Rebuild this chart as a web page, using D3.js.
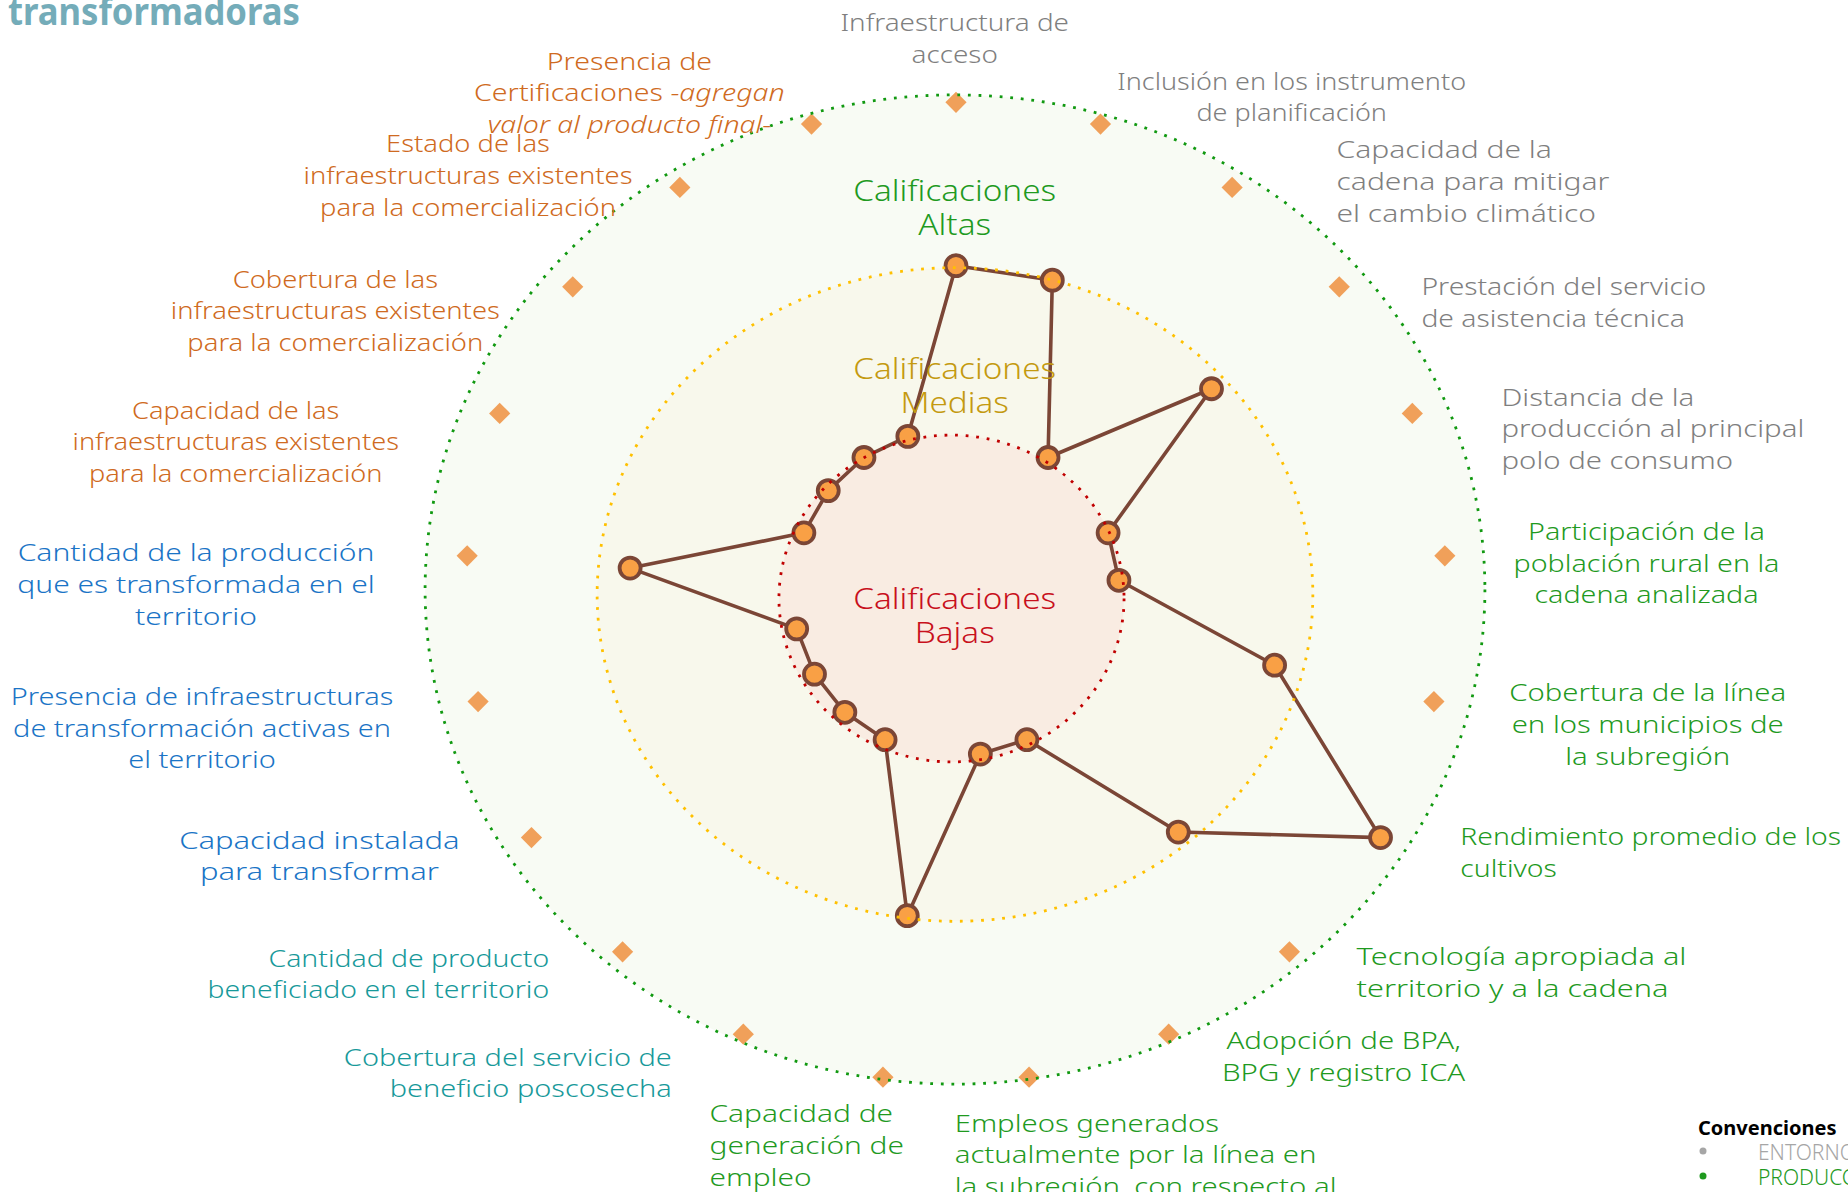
<!DOCTYPE html>
<html lang="es">
<head>
<meta charset="UTF-8">
<script src="https://d3js.org/d3.v7.min.js"></script>
<style>
  body { margin: 0; background: #ffffff; }
  svg { display: block; font-family: "Noto Sans", sans-serif; }
  .ligero { font-weight: 300; }
</style>
</head>
<body>
<svg width="1848" height="1192"></svg>
<script>
// criterios del radar, en sentido horario desde arriba
var criterios = [
  ["Infraestructura de", "acceso"],
  ["Inclusión en los instrumento", "de planificación"],
  ["Capacidad de la", "cadena para mitigar", "el cambio climático"],
  ["Prestación del servicio", "de asistencia técnica"],
  ["Distancia de la", "producción al principal", "polo de consumo"],
  ["Participación de la", "población rural en la", "cadena analizada"],
  ["Cobertura de la línea", "en los municipios de", "la subregión"],
  ["Rendimiento promedio de los", "cultivos"],
  ["Tecnología apropiada  al", "territorio y a la cadena"],
  ["Adopción de BPA,", "BPG y registro ICA"],
  ["Empleos generados", "actualmente por la línea en", "la subregión, con respecto al"],
  ["Capacidad de", "generación de", "empleo"],
  ["Cobertura del servicio de", "beneficio poscosecha"],
  ["Cantidad de producto", "beneficiado en el territorio"],
  ["Capacidad instalada", "para transformar"],
  ["Presencia de infraestructuras", "de transformación activas en", "el territorio"],
  ["Cantidad de la producción", "que es transformada en el", "territorio"],
  ["Capacidad de las", "infraestructuras existentes", "para la comercialización"],
  ["Cobertura de las", "infraestructuras existentes", "para la comercialización"],
  ["Estado de las", "infraestructuras existentes", "para la comercialización"],
  ["Presencia de", "Certificaciones _-agregan_", "_valor al producto final-_"]
];

var componentes = [
  "ENTORNO", "ENTORNO", "ENTORNO", "ENTORNO", "ENTORNO",
  "PRODUCCIÓN", "PRODUCCIÓN", "PRODUCCIÓN", "PRODUCCIÓN", "PRODUCCIÓN", "PRODUCCIÓN", "PRODUCCIÓN",
  "BENEFICIO", "BENEFICIO",
  "TRANSFORMACIÓN", "TRANSFORMACIÓN", "TRANSFORMACIÓN",
  "COMERCIALIZACIÓN", "COMERCIALIZACIÓN", "COMERCIALIZACIÓN", "COMERCIALIZACIÓN"
];

// 1 = baja, 2 = media, 3 = alta
var calificaciones = [2, 2, 1, 2, 1, 1, 2, 3, 2, 1, 1, 2, 1, 1, 1, 1, 2, 1, 1, 1, 1];
var maxCalificacion = 3;

var niveles = ["Bajas", "Medias", "Altas"];
var convenciones = ["ENTORNO", "PRODUCCIÓN"];
var titulo = "transformadoras";

// ---- colores
var colorComponente = {
  "ENTORNO": "#7f7f7f",
  "PRODUCCIÓN": "#1f9a1f",
  "BENEFICIO": "#17999a",
  "TRANSFORMACIÓN": "#1a74c6",
  "COMERCIALIZACIÓN": "#cf6a21"
};
var colorNivel = ["#c8101c", "#c49a10", "#1f9a1f"];
var rellenoNivel = ["#f9ece2", "#f8f8ec", "#f8fbf4"];

var svg = d3.select("svg");
var cx = 956, cy = 592.5;

var r = d3.scaleLinear().domain([0, maxCalificacion]).range([0, 490.2]);
var ang = d3.scaleLinear().domain([0, criterios.length]).range([0, 2 * Math.PI]);

var g = svg.append("g").attr("transform", "translate(" + cx + "," + cy + ")");

// anillos (ligeramente achatados como en el original)
var anillos = [
  {nivel: 3, kx: 1.081, ky: 1.009, dx: -1, dy: -3},
  {nivel: 2, kx: 1.095, ky: 1.0, dx: -1, dy: 2},
  {nivel: 1, kx: 1.056, ky: 1.0, dx: -4.5, dy: 6}
];

g.selectAll("ellipse.fondo").data(anillos).enter().append("ellipse")
  .attr("class", "fondo")
  .attr("cx", function(d) { return d.dx; })
  .attr("cy", function(d) { return d.dy; })
  .attr("rx", function(d) { return r(d.nivel) * d.kx; })
  .attr("ry", function(d) { return r(d.nivel) * d.ky; })
  .attr("fill", function(d) { return rellenoNivel[d.nivel - 1]; });

// textos de "Calificaciones ..."
var posNiveles = [598.7, 369, 191];
niveles.forEach(function(n, i) {
  var grp = svg.append("g").attr("class", "ligero");
  var lineas = ["Calificaciones", n];
  lineas.forEach(function(l, j) {
    grp.append("text")
      .attr("x", 0).attr("y", j * 34).attr("dy", "0.35em")
      .attr("text-anchor", "middle")
      .attr("fill", colorNivel[i])
      .style("font-size", "29px")
      .text(l);
  });
  var w = grp.select("text").node().getComputedTextLength();
  grp.attr("transform", "translate(" + 954.7 + "," + posNiveles[i] + ") scale(" + (203 / w) + ",1)");
});

// rombos en el valor máximo
g.selectAll("path.rombo").data(criterios).enter().append("path")
  .attr("class", "rombo")
  .attr("d", d3.symbol(d3.symbolSquare, 225)())
  .attr("fill", "#f0a05a")
  .attr("transform", function(d, i) {
    var p = d3.pointRadial(ang(i), r(maxCalificacion));
    return "translate(" + p[0] + "," + p[1] + ") rotate(45)";
  });

// línea de calificaciones
var linea = d3.lineRadial()
  .angle(function(d, i) { return ang(i); })
  .radius(function(d) { return r(d); })
  .curve(d3.curveLinearClosed);

g.append("path")
  .attr("d", linea(calificaciones))
  .attr("fill", "none")
  .attr("stroke", "#7b4636")
  .attr("stroke-width", 3.6)
  .attr("stroke-linejoin", "round");

g.selectAll("circle.punto").data(calificaciones).enter().append("circle")
  .attr("class", "punto")
  .attr("cx", function(d, i) { return d3.pointRadial(ang(i), r(d))[0]; })
  .attr("cy", function(d, i) { return d3.pointRadial(ang(i), r(d))[1]; })
  .attr("r", 10.5)
  .attr("fill", "#f9a045")
  .attr("stroke", "#7b4636")
  .attr("stroke-width", 3.8);

// bordes punteados
g.selectAll("ellipse.borde").data(anillos).enter().append("ellipse")
  .attr("class", "borde")
  .attr("cx", function(d) { return d.dx; })
  .attr("cy", function(d) { return d.dy; })
  .attr("rx", function(d) { return r(d.nivel) * d.kx; })
  .attr("ry", function(d) { return r(d.nivel) * d.ky; })
  .attr("fill", "none")
  .attr("stroke", function(d) { return ["#c00000", "#ffc000", "#119911"][d.nivel - 1]; })
  .attr("stroke-width", 2.8)
  .attr("stroke-dasharray", "2.8 7.8");

// etiquetas de criterios: x, y (centro 1a línea), anclaje, línea de referencia y su ancho
var posEtiquetas = [
  {x: 954.7, y: 22.4, a: "middle", ref: 0, w: 228.6},
  {x: 1291.7, y: 81.3, a: "middle", ref: 0, w: 349},
  {x: 1336.5, y: 149.7, a: "start", ref: 1, w: 273},
  {x: 1421.4, y: 286.4, a: "start", ref: 0, w: 285},
  {x: 1501.5, y: 397.2, a: "start", ref: 1, w: 303},
  {x: 1646.5, y: 531.5, a: "middle", ref: 1, w: 266},
  {x: 1647.7, y: 693, a: "middle", ref: 0, w: 277},
  {x: 1460.3, y: 836.8, a: "start", ref: 0, w: 381},
  {x: 1356.6, y: 957, a: "start", ref: 0, w: 330},
  {x: 1343.6, y: 1040.7, a: "middle", ref: 0, w: 234.5},
  {x: 954.7, y: 1123.2, a: "start", ref: 1, w: 362},
  {x: 709.5, y: 1113.8, a: "start", ref: 1, w: 194.5},
  {x: 671.8, y: 1057.2, a: "end", ref: 0, w: 328},
  {x: 549.2, y: 958.2, a: "end", ref: 1, w: 342},
  {x: 319.4, y: 840.3, a: "middle", ref: 0, w: 280.5},
  {x: 202, y: 696.5, a: "middle", ref: 1, w: 378},
  {x: 196, y: 552.8, a: "middle", ref: 0, w: 357},
  {x: 235.7, y: 410.2, a: "middle", ref: 1, w: 326.5},
  {x: 335.3, y: 279.3, a: "middle", ref: 1, w: 329},
  {x: 468, y: 143.8, a: "middle", ref: 1, w: 329},
  {x: 629.4, y: 61.3, a: "middle", ref: 1, w: 311}
];

criterios.forEach(function(lineas, i) {
  var L = posEtiquetas[i];
  var grp = svg.append("g").attr("class", "criterio ligero");
  lineas.forEach(function(l, j) {
    var t = grp.append("text")
      .attr("x", 0).attr("y", j * 31.8).attr("dy", "0.35em")
      .attr("text-anchor", L.a)
      .attr("fill", colorComponente[componentes[i]])
      .style("font-size", "24px");
    l.split("_").forEach(function(s, k) {
      if (s === "") return;
      t.append("tspan").style("font-style", k % 2 ? "italic" : "normal").text(s);
    });
  });
  var w = grp.selectAll("text").nodes()[L.ref].getComputedTextLength();
  grp.attr("transform", "translate(" + L.x + "," + L.y + ") scale(" + (L.w / w) + ",1)");
});

// título (cortado arriba en el original)
var tit = svg.append("text")
  .attr("x", 0).attr("y", 0)
  .attr("fill", "#74acb9")
  .style("font-size", "37px").style("font-weight", "bold")
  .text(titulo);
var tw = tit.node().getComputedTextLength();
tit.attr("transform", "translate(8,25) scale(" + (292 / tw) + ",1)");

// convenciones
svg.append("text").attr("x", 1698).attr("y", 1135)
  .style("font-size", "20px").style("font-weight", "bold").attr("fill", "#000")
  .text("Convenciones");
var colorConv = ["#a6a6a6", "#1f9a1f"];
convenciones.forEach(function(c, i) {
  svg.append("circle").attr("cx", 1703).attr("cy", 1151 + i * 25).attr("r", 3.5).attr("fill", colorConv[i]);
  svg.append("text").attr("x", 1758).attr("y", 1160 + i * 25)
    .attr("class", "ligero")
    .style("font-size", "21px").attr("fill", colorConv[i]).text(c);
});
</script>
</body>
</html>
